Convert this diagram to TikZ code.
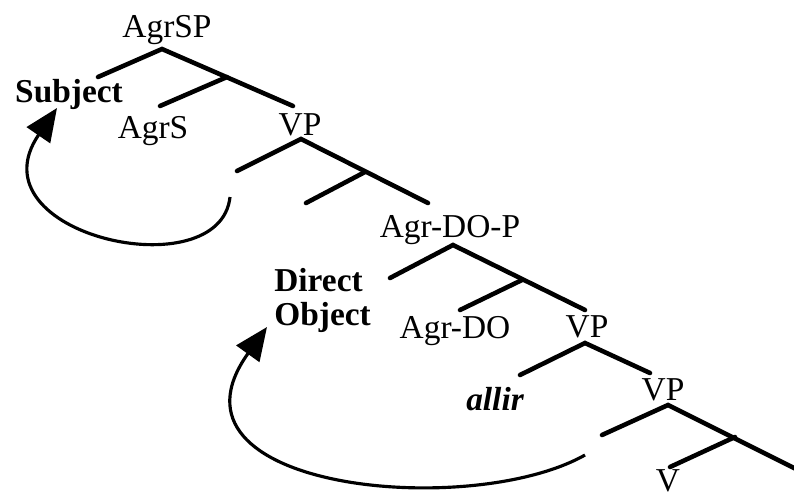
\documentclass[tikz,border=0pt]{standalone}
\usepackage{fontspec}
\setmainfont{Liberation Serif}
\usetikzlibrary{arrows.meta, calc}

\begin{document}
\begin{tikzpicture}[
  x=0.02cm, y=-0.02cm,
  cat/.style={anchor=base, inner sep=0pt, font=\fontsize{19}{19}\selectfont},
  spec/.style={cat, font=\fontsize{19}{19}\selectfont\bfseries},
  branch/.style={line width=2.6pt, line cap=round},
  movement/.style={line width=1.8pt, -{Triangle[length=0.66cm, width=0.56cm]}}
]
\useasboundingbox (0,0) rectangle (794,495);

% labels
\node (agrsp) [cat] at (167,37) {AgrSP};
\node (subj) [spec] at (69,102) {Subject};
\node (agrs) [cat] at (153,138) {AgrS};
\node (vp1) [cat] at (300,135) {VP};
\node (agrdop) [cat] at (450,237) {Agr-DO-P};
\node (dobj) [spec, anchor=base west, align=left] at (274,325) {Direct\\Object};
\node (agrdo) [cat] at (455,338) {Agr-DO};
\node (vp2) [cat] at (587,337) {VP};
\node (allir) [cat, font=\fontsize{19}{19}\selectfont\bfseries\itshape] at (495,410) {allir};
\node (vp3) [cat] at (663,400) {VP};
\node (v) [cat] at (668,491) {V};

% branch points
\coordinate (s0) at (162,49);
\coordinate (s1) at (98,77);
\coordinate (s2) at (227,77);
\coordinate (s3) at (160,106);
\coordinate (s4) at (293,106);
\coordinate (v0) at (301,139);
\coordinate (v1) at (237,171);
\coordinate (v2) at (365,172);
\coordinate (v3) at (306,203);
\coordinate (v4) at (428,203);
\coordinate (a0) at (453,245);
\coordinate (a1) at (390,278);
\coordinate (a2) at (522,280);
\coordinate (a3) at (460,310);
\coordinate (a4) at (585,310);
\coordinate (w0) at (585,343);
\coordinate (w1) at (520,375);
\coordinate (w4) at (650,373);
\coordinate (u0) at (668,405);
\coordinate (u1) at (602,435);
\coordinate (u2) at (735,437);
\coordinate (u3) at (670,467);
\coordinate (u4) at (800,471);
\coordinate (t1) at (230,197);
\coordinate (t2) at (585,455);

\draw [branch] (s1) -- (s0) -- (s4);
\draw [branch] (s3) -- (s2);
\draw [branch] (v1) -- (v0) -- (v4);
\draw [branch] (v3) -- (v2);
\draw [branch] (a1) -- (a0) -- (a4);
\draw [branch] (a3) -- (a2);
\draw [branch] (w1) -- (w0) -- (w4);
\draw [branch] (u1) -- (u0) -- (u4);
\draw [branch] (u3) -- (u2);

% movement
\draw [movement] (t1) .. controls (220,290) and (-30,235) .. ($(subj.base)+(-12,6)$);
\draw [movement] (t2) .. controls (470,520) and (150,490) .. ($(dobj.base west)+(-7,2)$);
\end{tikzpicture}
\end{document}
